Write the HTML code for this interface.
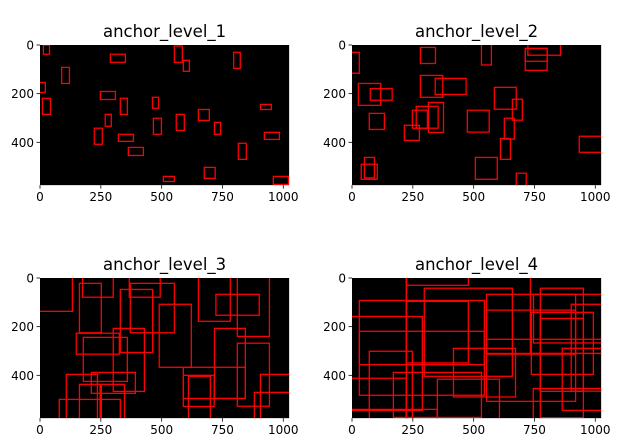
<!DOCTYPE html>
<html><head><meta charset="utf-8"><style>
body{margin:0;background:#fff}
svg text{font-family:"DejaVu Sans","Liberation Sans",sans-serif;fill:#000}
</style></head><body>
<svg id="chart" width="621" height="443" xmlns="http://www.w3.org/2000/svg"></svg>
<script>
const imgW = 1024, imgH = 576;
const xTicks = [0, 250, 500, 750, 1000];
const yTicks = [0, 200, 400];
const titles = ["anchor_level_1", "anchor_level_2", "anchor_level_3", "anchor_level_4"];
// boxes: [x, y, w, h] in image pixel units
const boxes1 = [[14,0,25,38],[289,38,62,33],[552,4,33,67],[589,63,25,45],[796,30,27,66],[89,92,32,66],[-5,154,27,41],[248,191,62,33],[10,219,33,66],[330,219,29,66],[462,215,25,45],[906,244,45,21],[268,285,25,49],[560,285,33,66],[651,265,45,45],[466,301,33,66],[717,318,25,49],[223,342,33,66],[322,367,62,29],[922,359,62,29],[363,421,62,33],[815,404,33,66],[675,503,45,45],[507,540,45,21],[959,540,62,33]];
const boxes2 = [[-10,30,40,86],[281,10,62,66],[532,-5,41,87],[712,14,90,90],[723,-5,134,47],[712,14,90,53],[26,158,92,90],[75,179,90,48],[281,125,92,90],[342,137,127,66],[585,174,90,90],[659,223,41,86],[71,281,62,66],[248,268,62,74],[264,252,90,90],[314,236,62,123],[474,268,90,90],[215,330,62,62],[626,301,41,86],[610,384,41,86],[934,375,110,66],[51,462,41,84],[38,490,66,62],[507,462,90,90],[675,527,41,60]];
const boxes3 = [[-60,-40,193,177],[162,22,90,203],[175,-30,126,109],[367,-30,127,109],[371,22,181,203],[330,47,133,259],[490,108,132,259],[651,-50,131,228],[723,67,178,86],[811,-50,132,290],[149,227,177,86],[178,244,181,181],[301,207,128,259],[717,207,127,288],[811,268,132,259],[589,367,255,128],[589,400,127,128],[610,404,90,200],[211,388,181,86],[108,396,128,200],[162,437,185,200],[79,499,251,200],[906,396,130,200],[881,470,150,200],[247,437,5,200]];
const boxes4 = [[223,-50,255,80],[297,42,362,362],[30,92,514,390],[223,96,255,253],[-50,158,339,386],[30,219,514,137],[71,301,177,300],[-50,412,273,200],[170,388,362,185],[351,416,255,200],[417,289,255,200],[553,67,366,440],[553,132,366,181],[553,252,500,58],[733,-50,400,360],[746,67,400,200],[774,42,177,532],[737,141,255,255],[774,166,177,300],[901,108,200,357],[864,289,200,255],[745,454,400,200],[-50,540,400,100],[223,-50,1,700]];
const allBoxes = [boxes1, boxes2, boxes3, boxes4];
const panels = [[40,45],[352,45],[40,278],[352,278]];
const S = 0.2433;
const NS = "http://www.w3.org/2000/svg";
const svg = document.getElementById('chart');
function mk(tag, attrs, parent){const e=document.createElementNS(NS,tag);for(const k in attrs)e.setAttribute(k,attrs[k]);(parent||svg).appendChild(e);return e;}
panels.forEach((p, i) => {
  const [ox, oy] = p;
  const sx = v => ox + v * S, sy = v => oy + v * S;
  const g = mk('g', {});
  
  
  const cp = mk('clipPath', {id: 'cp' + i}, g);
  mk('rect', {x: ox, y: oy, width: imgW * S, height: imgH * S}, cp);
  const bg = mk('rect', {x: ox, y: oy, width: imgW * S, height: imgH * S, fill: '#000'}, g);
  
  
  const bx = mk('g', {'clip-path': 'url(#cp' + i + ')'}, g);
  allBoxes[i].forEach(b => {
    const r = mk('rect', {x: sx(b[0]), y: sy(b[1]), width: b[2] * S, height: b[3] * S, fill: 'none', stroke: '#f00', 'stroke-width': 1.3}, bx);
    
    
  });
  const t = mk('text', {x: ox + imgW * S / 2, y: oy - 8, 'text-anchor': 'middle', 'font-size': 16.5}, g);
  t.textContent = titles[i];
  
  
  xTicks.forEach(v => {
    mk('line', {x1: sx(v), x2: sx(v), y1: oy + imgH * S, y2: oy + imgH * S + 3.5, stroke: '#000', 'stroke-width': 0.8}, g);
    const l = mk('text', {x: sx(v), y: oy + imgH * S + 16, 'text-anchor': 'middle', 'font-size': 12}, g);
    l.textContent = v;
    
    
  });
  yTicks.forEach(v => {
    mk('line', {x1: ox - 3.5, x2: ox, y1: sy(v), y2: sy(v), stroke: '#000', 'stroke-width': 0.8}, g);
    const l = mk('text', {x: ox - 6, y: sy(v) + 4.5, 'text-anchor': 'end', 'font-size': 12}, g);
    l.textContent = v;
    
    
  });
});
</script>
</body></html>
